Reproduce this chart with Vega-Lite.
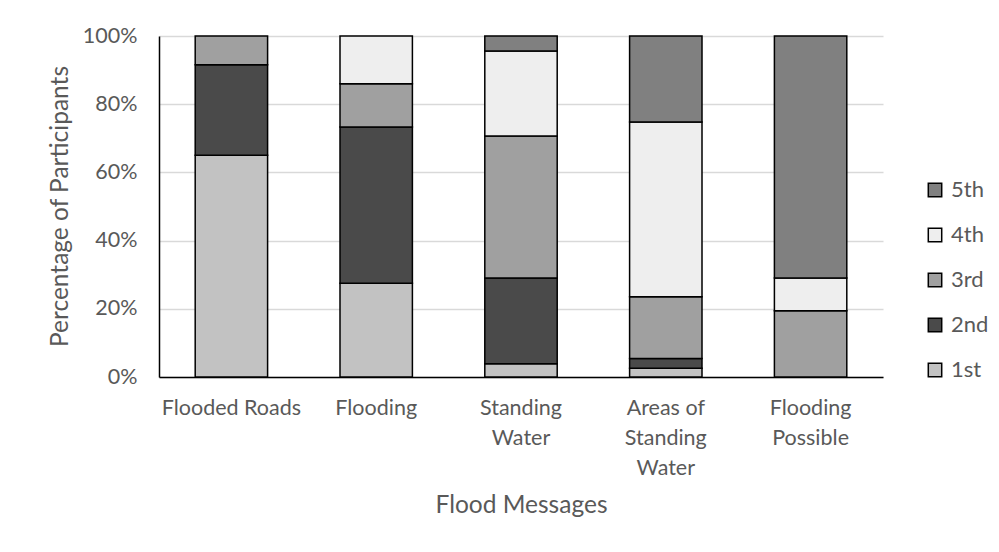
{
  "$schema": "https://vega.github.io/schema/vega-lite/v6.json",
  "width": 724,
  "height": 341,
  "autosize": {"type": "none"},
  "padding": {"left": 159, "top": 36, "right": 116, "bottom": 175},
  "background": "white",
  "config": {"view": {"stroke": null}, "font": "Lato"},
  "data": {
    "values": [
      {"message": "Flooded Roads", "rank": "1st", "pct": 65.0},
      {"message": "Flooded Roads", "rank": "2nd", "pct": 26.6},
      {"message": "Flooded Roads", "rank": "3rd", "pct": 8.4},
      {"message": "Flooding", "rank": "1st", "pct": 27.5},
      {"message": "Flooding", "rank": "2nd", "pct": 45.8},
      {"message": "Flooding", "rank": "3rd", "pct": 12.7},
      {"message": "Flooding", "rank": "4th", "pct": 14.0},
      {"message": "Standing Water", "rank": "1st", "pct": 3.9},
      {"message": "Standing Water", "rank": "2nd", "pct": 25.1},
      {"message": "Standing Water", "rank": "3rd", "pct": 41.7},
      {"message": "Standing Water", "rank": "4th", "pct": 24.9},
      {"message": "Standing Water", "rank": "5th", "pct": 4.4},
      {"message": "Areas of Standing Water", "rank": "1st", "pct": 2.6},
      {"message": "Areas of Standing Water", "rank": "2nd", "pct": 2.8},
      {"message": "Areas of Standing Water", "rank": "3rd", "pct": 18.1},
      {"message": "Areas of Standing Water", "rank": "4th", "pct": 51.3},
      {"message": "Areas of Standing Water", "rank": "5th", "pct": 25.2},
      {"message": "Flooding Possible", "rank": "3rd", "pct": 19.4},
      {"message": "Flooding Possible", "rank": "4th", "pct": 9.6},
      {"message": "Flooding Possible", "rank": "5th", "pct": 71.0}
    ]
  },
  "mark": {"type": "bar", "stroke": "black", "strokeWidth": 1.5},
  "encoding": {
    "x": {
      "field": "message",
      "type": "nominal",
      "sort": ["Flooded Roads", "Flooding", "Standing Water", "Areas of Standing Water", "Flooding Possible"],
      "scale": {"paddingInner": 0.5, "paddingOuter": 0.25},
      "axis": {
        "title": "Flood Messages",
        "titleFontSize": 24.5,
        "titleFontWeight": "normal",
        "titleColor": "#595959",
        "titleY": 128,
        "titleBaseline": "middle",
        "labelAngle": 0,
        "labelFontSize": 21.5,
        "labelColor": "#595959",
        "labelLineHeight": 30,
        "labelPadding": 20,
        "labelExpr": "datum.value == 'Areas of Standing Water' ? ['Areas of','Standing','Water'] : datum.value == 'Standing Water' ? ['Standing','Water'] : datum.value == 'Flooding Possible' ? ['Flooding','Possible'] : datum.value",
        "ticks": false,
        "domainColor": "black",
        "domainWidth": 1.5
      }
    },
    "y": {
      "field": "pct",
      "type": "quantitative",
      "stack": "normalize",
      "axis": {
        "title": "Percentage of Participants",
        "titleFontSize": 24.5,
        "titleFontWeight": "normal",
        "titleColor": "#595959",
        "titleX": -99,
        "titleY": 170,
        "titleBaseline": "middle",
        "titleAlign": "center",
        "format": ".0%",
        "values": [0, 0.2, 0.4, 0.6, 0.8, 1],
        "labelFontSize": 21.5,
        "labelColor": "#595959",
        "labelPadding": 22,
        "ticks": false,
        "gridColor": "#d9d9d9",
        "gridWidth": 1.5,
        "domainColor": "black",
        "domainWidth": 1.5
      }
    },
    "color": {
      "field": "rank",
      "type": "nominal",
      "scale": {
        "domain": ["5th", "4th", "3rd", "2nd", "1st"],
        "range": ["#808080", "#eeeeee", "#a0a0a0", "#4a4a4a", "#c2c2c2"]
      },
      "legend": {
        "title": null,
        "orient": "none",
        "legendX": 765,
        "legendY": 143,
        "symbolType": "square",
        "symbolSize": 180,
        "symbolStrokeColor": "black",
        "symbolStrokeWidth": 1.5,
        "symbolOpacity": 1,
        "labelFontSize": 22,
        "labelColor": "#595959",
        "labelOffset": 5,
        "rowPadding": 23
      }
    },
    "order": {"field": "rank", "sort": "ascending"}
  }
}
